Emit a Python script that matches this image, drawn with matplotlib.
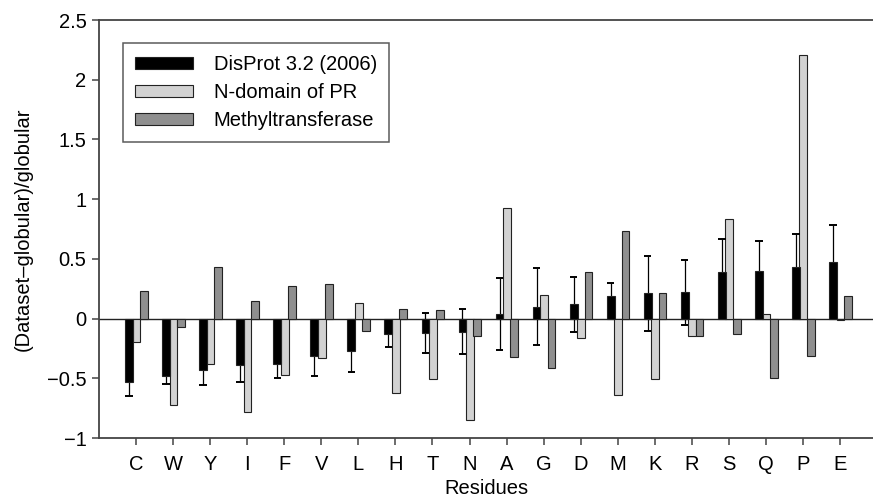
import numpy as np
import matplotlib.pyplot as plt

plt.rcParams['font.family'] = ['Liberation Sans', 'DejaVu Sans']

residues = ['C', 'W', 'Y', 'I', 'F', 'V', 'L', 'H', 'T', 'N',
            'A', 'G', 'D', 'M', 'K', 'R', 'S', 'Q', 'P', 'E']
disprot = [-0.53, -0.48, -0.43, -0.39, -0.38, -0.31, -0.27, -0.13, -0.12, -0.11,
           0.04, 0.10, 0.12, 0.19, 0.21, 0.22, 0.39, 0.40, 0.43, 0.47]
disprot_err = [0.12, 0.07, 0.13, 0.14, 0.12, 0.17, 0.18, 0.11, 0.17, 0.19,
               0.30, 0.32, 0.23, 0.11, 0.31, 0.27, 0.28, 0.25, 0.28, 0.31]
npr = [-0.20, -0.72, -0.38, -0.78, -0.47, -0.33, 0.13, -0.62, -0.51, -0.85,
       0.93, 0.20, -0.16, -0.64, -0.51, -0.15, 0.83, 0.04, 2.21, -0.01]
methyl = [0.23, -0.07, 0.43, 0.15, 0.27, 0.29, -0.10, 0.08, 0.07, -0.15,
          -0.32, -0.41, 0.39, 0.73, 0.21, -0.15, -0.13, -0.50, -0.31, 0.19]

fig = plt.figure(figsize=(8.73, 5.0), dpi=100)
ax = fig.add_axes([99 / 873, 62 / 500, 1 - 99 / 873, 418 / 500])

x = np.arange(len(residues))
w = 0.21
edge = '#222222'

ax.bar(x - 0.19, disprot, w, color='black', edgecolor=edge, linewidth=0.8,
       label='DisProt 3.2 (2006)', zorder=4)
ax.bar(x + 0.01, npr, w, color='#d2d2d2', edgecolor=edge, linewidth=0.8,
       label='N-domain of PR', zorder=2)
ax.bar(x + 0.21, methyl, w, color='#8f8f8f', edgecolor=edge, linewidth=0.8,
       label='Methyltransferase', zorder=2)

# error bars drawn behind the black bars; caps only where they stick out
xe = x - 0.19
v = np.array(disprot)
e = np.array(disprot_err)
lo = v - e
hi = v + e
ax.vlines(xe, lo, hi, color='black', linewidth=0.9, zorder=3)
show_lo = lo < np.minimum(v, 0)
show_hi = hi > np.maximum(v, 0)
cap = 0.1
ax.hlines(lo[show_lo], xe[show_lo] - cap, xe[show_lo] + cap,
          color='black', linewidth=1.4, zorder=3)
ax.hlines(hi[show_hi], xe[show_hi] - cap, xe[show_hi] + cap,
          color='black', linewidth=1.4, zorder=3)

ax.axhline(0, color='#222222', linewidth=1.0, zorder=1)

ax.set_xlim(-1.0, 19.89)
ax.set_ylim(-1, 2.5)
ax.set_xticks(x)
ax.set_xticklabels(residues)
yt = [-1, -0.5, 0, 0.5, 1, 1.5, 2, 2.5]
ax.set_yticks(yt)
ax.set_yticklabels(['\u22121', '\u22120.5', '0', '0.5', '1', '1.5', '2', '2.5'])

for s in ['left', 'bottom', 'top']:
    ax.spines[s].set_color('#444444')
    ax.spines[s].set_linewidth(1.3)
ax.spines['right'].set_visible(False)
ax.tick_params(axis='both', direction='out', length=5, width=1.1,
               color='#444444', labelsize=14.5)
ax.tick_params(axis='x', pad=7)
ax.tick_params(axis='y', pad=4)

ax.set_xlabel('Residues', fontsize=14.5, labelpad=4)
ax.set_ylabel('(Dataset\u2013globular)/globular', fontsize=14.5, labelpad=10)

leg = ax.legend(loc='upper left', bbox_to_anchor=(0.031, 0.945), fontsize=14.5,
                frameon=True, fancybox=False, handlelength=2.9,
                handleheight=0.6, handletextpad=1.0, labelspacing=0.45,
                borderpad=0.6, borderaxespad=0)
leg.get_frame().set_edgecolor('#333333')
leg.get_frame().set_linewidth(1.1)

fig.savefig('out.png', dpi=100)
